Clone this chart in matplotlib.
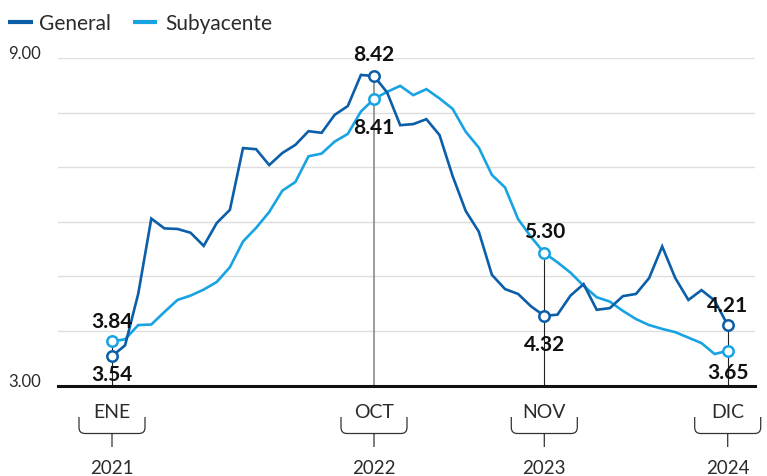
import matplotlib
matplotlib.use('Agg')
import matplotlib.pyplot as plt
from matplotlib.path import Path
from matplotlib.patches import PathPatch
from matplotlib.lines import Line2D
from matplotlib.transforms import IdentityTransform

plt.rcParams['font.family'] = ['Lato', 'DejaVu Sans']

# monthly data, ene 2021 - dic 2024
general = [3.54, 3.74, 4.68, 6.06, 5.88, 5.87, 5.80, 5.56, 5.98, 6.22, 7.35, 7.33,
           7.04, 7.26, 7.41, 7.66, 7.63, 7.96, 8.12, 8.69, 8.67, 8.37, 7.77, 7.79,
           7.88, 7.59, 6.84, 6.20, 5.82, 5.03, 4.77, 4.68, 4.45, 4.28, 4.30, 4.65,
           4.86, 4.39, 4.42, 4.64, 4.68, 4.97, 5.55, 4.97, 4.57, 4.75, 4.56, 4.11]
subyacente = [3.81, 3.85, 4.11, 4.12, 4.35, 4.57, 4.65, 4.76, 4.90, 5.17, 5.64, 5.89,
              6.18, 6.57, 6.73, 7.20, 7.25, 7.47, 7.61, 8.02, 8.25, 8.38, 8.49, 8.32,
              8.43, 8.26, 8.07, 7.65, 7.36, 6.86, 6.63, 6.05, 5.72, 5.43, 5.26, 5.07,
              4.83, 4.62, 4.54, 4.37, 4.22, 4.11, 4.04, 3.98, 3.88, 3.78, 3.58, 3.64]

# highlighted months
hl_idx = [0, 20, 33, 47]
hl_month = ['ENE', 'OCT', 'NOV', 'DIC']
hl_year = ['2021', '2022', '2023', '2024']
hl_general = ['3.54', '8.42', '4.32', '4.21']
hl_subyacente = ['3.84', '8.41', '5.30', '3.65']

DARK = '#0b5ea8'
LIGHT = '#18a3e3'
TXT = '#2b2b2b'
W, H = 767, 477

fig = plt.figure(figsize=(W / 100, H / 100), dpi=100)
# axes placed in pixels: left 58, right 755, top 59, bottom 386.7
ax = fig.add_axes([58 / W, 1 - 386.7 / H, (755 - 58) / W, (386.7 - 59) / H])
step = 13.1
ax.set_xlim((58 - 112) / step, (755 - 112) / step)
ax.set_ylim(3, 9)
ax.axis('off')

x = list(range(len(general)))

for v in range(4, 10):
    ax.axhline(v, color='#dedede', lw=1.0, zorder=0)
ax.axhline(3, color='#111111', lw=2.2, zorder=5, clip_on=False)

# drop lines
for k, i in enumerate(hl_idx):
    top = max(general[i], subyacente[i])
    c, lw = ('#8a8a8a', 1.2) if k == 1 else ('#222222', 0.8)
    ax.plot([i, i], [3, top], color=c, lw=lw, zorder=1)

ax.plot(x, subyacente, color=LIGHT, lw=1.9, zorder=3, solid_joinstyle='miter')
ax.plot(x, general, color=DARK, lw=1.9, zorder=3, solid_joinstyle='miter')

ax.plot(hl_idx, [subyacente[i] for i in hl_idx], 'o', ms=7.5, mfc='white',
        mec=LIGHT, mew=1.8, zorder=6, clip_on=False)
ax.plot(hl_idx, [general[i] for i in hl_idx], 'o', ms=7.5, mfc='white',
        mec=DARK, mew=1.8, zorder=6, clip_on=False)

# label offsets in pixels (positive = up)
dy_gen = [-18, 22, -28, 20]
dy_sub = [20, -28, 22, -21]
for k, i in enumerate(hl_idx):
    ax.annotate(hl_general[k], (i, general[i]), xytext=(0, dy_gen[k]),
                textcoords='offset pixels', ha='center', va='center',
                fontsize=15, fontweight='bold', color='#111111',
                annotation_clip=False, zorder=7)
    ax.annotate(hl_subyacente[k], (i, subyacente[i]), xytext=(0, dy_sub[k]),
                textcoords='offset pixels', ha='center', va='center',
                fontsize=15, fontweight='bold', color='#111111',
                annotation_clip=False, zorder=7)

# y labels
for v, dy in [(9, 4.5), (3, 5)]:
    ax.annotate('%.2f' % v, (8, v), xycoords=('figure pixels', 'data'),
                xytext=(0, dy), textcoords='offset pixels', ha='left', va='center',
                fontsize=12, color=TXT, annotation_clip=False)

# month / year labels with bracket
for k, i in enumerate(hl_idx):
    ax.annotate(hl_month[k], (i, 3), xytext=(0, -(413 - 386.7)),
                textcoords='offset pixels', ha='center', va='center',
                fontsize=14, color=TXT, annotation_clip=False)
    ax.annotate(hl_year[k], (i, 3), xytext=(0, -(469 - 386.7)),
                textcoords='offset pixels', ha='center', va='center',
                fontsize=13.5, color=TXT, annotation_clip=False)
    cx = ax.transData.transform((i, 3))[0]
    def P(dx, py):
        return (cx + dx, H - py)
    verts = [P(-33, 418), P(-33, 428.5), P(-33, 434.5), P(-27, 434.5),
             P(27, 434.5), P(33, 434.5), P(33, 428.5), P(33, 418),
             P(0, 434.5), P(0, 448)]
    codes = [Path.MOVETO, Path.LINETO, Path.CURVE3, Path.CURVE3,
             Path.LINETO, Path.CURVE3, Path.CURVE3, Path.LINETO,
             Path.MOVETO, Path.LINETO]
    fig.add_artist(PathPatch(Path(verts, codes), fill=False, ec='#333333',
                             lw=0.9, transform=IdentityTransform()))

# legend
for x0, x1, c, txt, tx in [(8, 33, DARK, 'General', 39), (133, 157, LIGHT, 'Subyacente', 165)]:
    fig.add_artist(Line2D([x0, x1], [H - 22.7, H - 22.7], color=c, lw=3,
                          transform=IdentityTransform(), solid_capstyle='butt'))
    fig.text(tx / W, 1 - 23.5 / H, txt, ha='left', va='center', fontsize=15,
             color=TXT)

fig.savefig('out.png', dpi=100)
